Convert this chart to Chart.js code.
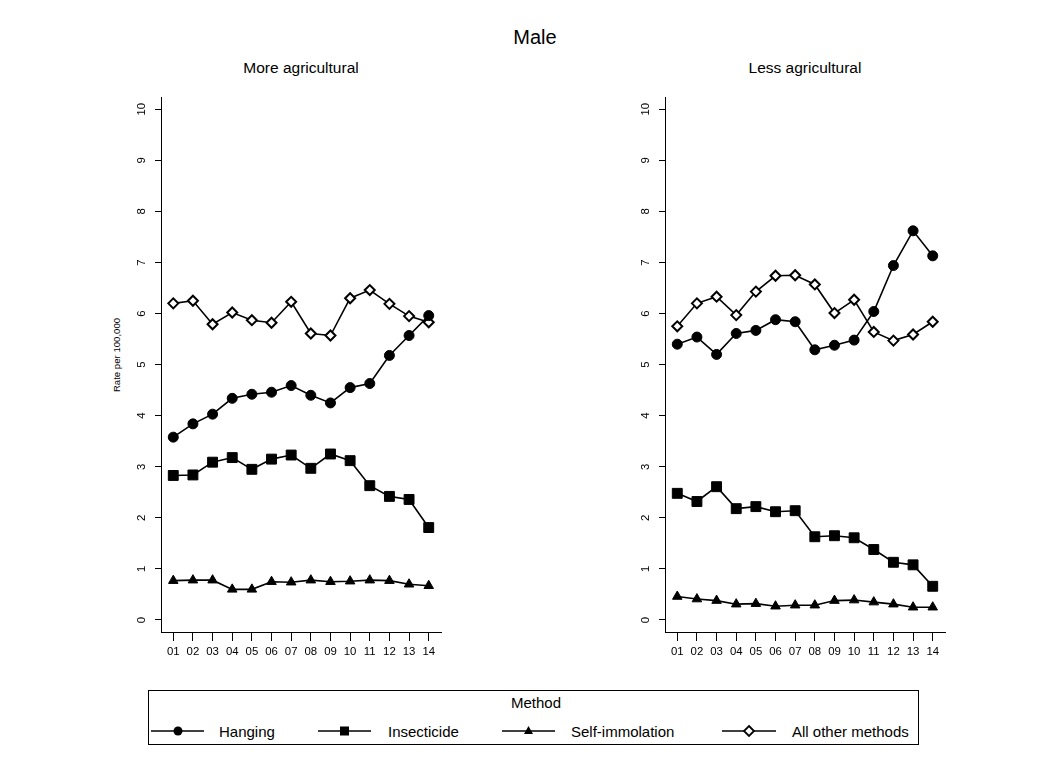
<!DOCTYPE html>
<html>
<head>
<meta charset="utf-8">
<script src="https://cdn.jsdelivr.net/npm/chart.js@4.4.1/dist/chart.umd.min.js"></script>
<style>
body{margin:0;background:#fff;font-family:"Liberation Sans",Arial,sans-serif;color:#000;}
#page{position:relative;width:1050px;height:769px;overflow:hidden;background:#fff;}
.txt{position:absolute;white-space:nowrap;line-height:1;}
.c{transform:translate(-50%,-50%);}
.l{transform:translate(0,-50%);}
canvas{position:absolute;top:80px;}
#legendBox{position:absolute;left:148px;top:690px;width:771px;height:55px;border:1px solid #000;box-sizing:border-box;}
</style>
</head>
<body>
<div id="page">
  <div class="txt c" style="left:535px;top:37px;font-size:20px;">Male</div>
  <div class="txt c" style="left:301px;top:68px;font-size:15.5px;">More agricultural</div>
  <div class="txt c" style="left:805px;top:68px;font-size:15.5px;">Less agricultural</div>
  <div class="txt" style="left:117px;top:355px;font-size:9.6px;transform:translate(-50%,-50%) rotate(-90deg);">Rate per 100,000</div>

  <canvas id="leftChart" width="525" height="600" style="left:0px;"></canvas>
  <canvas id="rightChart" width="525" height="600" style="left:525px;"></canvas>

  <div id="legendBox"></div>
  <div class="txt c" style="left:536px;top:702px;font-size:15px;">Method</div>
  <div class="txt l" style="left:219px;top:731px;font-size:15px;">Hanging</div>
  <div class="txt l" style="left:388px;top:731px;font-size:15px;">Insecticide</div>
  <div class="txt l" style="left:571px;top:731px;font-size:15px;">Self-immolation</div>
  <div class="txt l" style="left:792px;top:731px;font-size:15px;">All other methods</div>
  <svg style="position:absolute;left:0;top:0;" width="1050" height="769">
    <line x1="151" y1="731" x2="204" y2="731" stroke="#000" stroke-width="1.6"/>
    <circle cx="178" cy="731" r="4.5" fill="#000"/>
    <line x1="318" y1="731" x2="371" y2="731" stroke="#000" stroke-width="1.6"/>
    <rect x="340" y="726.5" width="9" height="9" fill="#000"/>
    <line x1="502" y1="731" x2="555" y2="731" stroke="#000" stroke-width="1.6"/>
    <polygon points="528.5,726 533,734 524,734" fill="#000"/>
    <line x1="722" y1="731" x2="776" y2="731" stroke="#000" stroke-width="1.6"/>
    <polygon points="749,726 754,731 749,736 744,731" fill="#fff" stroke="#000" stroke-width="1.8"/>
  </svg>
</div>

<script>
// years on the x axis
const years = ['01','02','03','04','05','06','07','08','09','10','11','12','13','14'];
const yTicks = [0,1,2,3,4,5,6,7,8,9,10];

// More agricultural
const moreHanging     = [3.58,3.84,4.03,4.34,4.42,4.46,4.59,4.40,4.25,4.55,4.63,5.18,5.57,5.96];
const moreInsecticide = [2.83,2.84,3.09,3.18,2.95,3.15,3.23,2.97,3.25,3.12,2.63,2.42,2.36,1.81];
const moreSelfImm     = [0.77,0.78,0.78,0.60,0.60,0.75,0.74,0.78,0.75,0.76,0.78,0.77,0.70,0.67];
const moreOther       = [6.20,6.25,5.79,6.02,5.87,5.82,6.23,5.61,5.57,6.30,6.46,6.19,5.95,5.83];

// Less agricultural
const lessHanging     = [5.40,5.54,5.20,5.61,5.67,5.88,5.84,5.29,5.38,5.48,6.04,6.94,7.62,7.13];
const lessInsecticide = [2.48,2.32,2.61,2.18,2.22,2.12,2.14,1.63,1.65,1.61,1.38,1.13,1.08,0.66];
const lessSelfImm     = [0.46,0.41,0.38,0.31,0.32,0.27,0.29,0.29,0.38,0.39,0.35,0.31,0.25,0.25];
const lessOther       = [5.75,6.20,6.33,5.97,6.43,6.74,6.75,6.57,6.01,6.27,5.64,5.47,5.59,5.84];

const FONT = '"Liberation Sans", Arial, sans-serif';

// y tick labels are vertical in the original, so draw them here
const yLabels = {
  id: 'yLabels',
  afterDraw(chart){
    const s = chart.scales.y, ctx = chart.ctx;
    ctx.save();
    ctx.font = '11.4px ' + FONT;
    ctx.fillStyle = '#000';
    ctx.textAlign = 'center';
    ctx.textBaseline = 'middle';
    yTicks.forEach(function(v){
      const py = s.getPixelForValue(v);
      ctx.save();
      ctx.translate(chart.chartArea.left - 19, py);
      ctx.rotate(-Math.PI/2);
      ctx.fillText(String(v), 0, 0);
      ctx.restore();
    });
    ctx.restore();
  }
};

function ds(label, values, style, radius, fill, bw){
  return {
    label: label,
    data: values.map((v,i) => ({x: i+1, y: v})),
    borderColor: '#000',
    borderWidth: 1.6,
    pointStyle: style,
    pointRadius: radius,
    pointHoverRadius: radius,
    pointBackgroundColor: fill,
    pointBorderColor: '#000',
    pointBorderWidth: bw,
    tension: 0,
    fill: false
  };
}

function makePanel(id, h, ins, si, oth, padL, padR){
  new Chart(document.getElementById(id), {
    type: 'line',
    data: {
      datasets: [
        ds('Hanging', h, 'circle', 5, '#000', 1),
        ds('Insecticide', ins, 'rect', 7, '#000', 1),
        ds('Self-immolation', si, 'triangle', 5.5, '#000', 1),
        ds('All other methods', oth, 'rectRot', 5, '#fff', 2)
      ]
    },
    options: {
      responsive: false,
      animation: false,
      events: [],
      layout: {padding: {top: 17, bottom: 8, left: padL, right: padR}},
      plugins: {legend: {display: false}, tooltip: {enabled: false}},
      scales: {
        x: {
          type: 'linear',
          min: 0.375, max: 14.625,
          afterBuildTicks: s => { s.ticks = years.map((_,i) => ({value: i+1})); },
          afterFit: s => { s.height = 40; },
          ticks: {
            callback: (v, i) => years[i],
            font: {size: 11.4, family: FONT},
            color: '#000',
            padding: 4,
            maxRotation: 0,
            autoSkip: false
          },
          grid: {drawOnChartArea: false, drawTicks: true, tickLength: 9, color: '#000', lineWidth: 1},
          border: {display: true, color: '#000', width: 1}
        },
        y: {
          type: 'linear',
          min: -0.235, max: 10.24,
          afterBuildTicks: s => { s.ticks = yTicks.map(v => ({value: v})); },
          afterFit: s => { s.width = 50; },
          ticks: {display: false},
          grid: {drawOnChartArea: false, drawTicks: true, tickLength: 6, color: '#000', lineWidth: 1},
          border: {display: true, color: '#000', width: 1}
        }
      }
    },
    plugins: [yLabels]
  });
}

makePanel('leftChart', moreHanging, moreInsecticide, moreSelfImm, moreOther, 111, 84);
makePanel('rightChart', lessHanging, lessInsecticide, lessSelfImm, lessOther, 90, 105);
</script>
</body>
</html>
